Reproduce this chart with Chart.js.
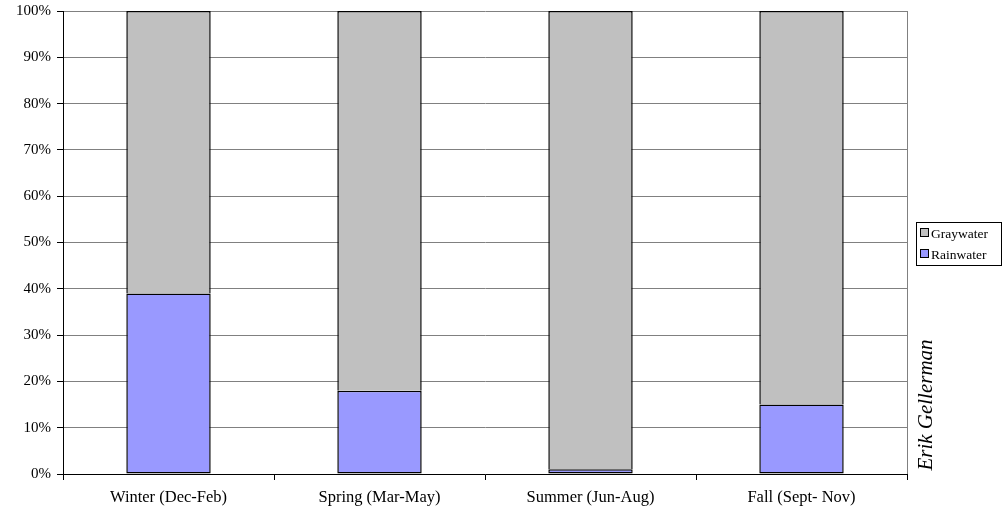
<!DOCTYPE html>
<html>
<head>
<meta charset="utf-8">
<script src="https://cdn.jsdelivr.net/npm/chart.js@4"></script>
<style>
  html, body { margin: 0; padding: 0; background: #fff; }
</style>
</head>
<body>
<canvas id="season-chart" width="1007" height="510"></canvas>
<script>
/* Data
================================================================ */

const seasons = ['Winter (Dec-Feb)', 'Spring (Mar-May)', 'Summer (Jun-Aug)', 'Fall (Sept- Nov)']
const rainwater = [39, 18, 1, 15]
const graywater = [61, 82, 99, 85]
const yTicks = [0, 10, 20, 30, 40, 50, 60, 70, 80, 90, 100]

const serif = "'Liberation Serif', 'DejaVu Serif', serif"

/* Plugins
================================================================ */

// right border of the plot, the boxed legend and the author note
const extras = {
  id: 'extras',
  afterDraw(chart) {
    const { ctx, chartArea } = chart
    ctx.save()

    ctx.strokeStyle = '#808080'
    ctx.lineWidth = 1
    ctx.beginPath()
    ctx.moveTo(Math.round(chartArea.right) + 0.5, chartArea.top)
    ctx.lineTo(Math.round(chartArea.right) + 0.5, chartArea.bottom)
    ctx.stroke()

    // legend
    const lx = 916, ly = 222, lw = 85, lh = 43
    ctx.strokeStyle = '#000'
    ctx.strokeRect(lx + 0.5, ly + 0.5, lw, lh)
    const items = [
      { text: 'Graywater', color: '#C0C0C0' },
      { text: 'Rainwater', color: '#9999FF' }
    ]
    ctx.font = '13.5px ' + serif
    ctx.textBaseline = 'middle'
    items.forEach((item, i) => {
      const y = ly + 11 + i * 21
      ctx.fillStyle = item.color
      ctx.fillRect(lx + 4.5, y - 4.5, 8, 8)
      ctx.strokeRect(lx + 4.5, y - 4.5, 8, 8)
      ctx.fillStyle = '#000'
      ctx.fillText(item.text, lx + 15, y + 1)
    })

    // rotated name
    ctx.translate(926, 405)
    ctx.rotate(-Math.PI / 2)
    ctx.font = 'italic 21px ' + serif
    ctx.textAlign = 'center'
    ctx.textBaseline = 'middle'
    ctx.fillStyle = '#000'
    ctx.fillText('Erik Gellerman', 0, 0)

    ctx.restore()
  }
}

/* Chart
================================================================ */

const canvas = document.getElementById('season-chart')

const barStyle = {
  borderColor: '#000',
  borderWidth: 1.5,
  categoryPercentage: 1,
  barPercentage: 0.4
}

const seasonChart = new Chart(canvas, {
  type: 'bar',
  data: {
    labels: seasons,
    datasets: [
      Object.assign({ label: 'Rainwater', data: rainwater, backgroundColor: '#9999FF', borderSkipped: false }, barStyle),
      // no bottom edge, the rainwater top edge already draws it
      Object.assign({ label: 'Graywater', data: graywater, backgroundColor: '#C0C0C0', borderSkipped: 'start' }, barStyle)
    ]
  },
  options: {
    responsive: false,
    animation: false,
    layout: {
      padding: { top: 11, right: 100, left: 0, bottom: 0 }
    },
    scales: {
      x: {
        stacked: true,
        offset: true,
        border: { color: '#000' },
        grid: {
          offset: true,
          drawOnChartArea: false,
          tickLength: 6,
          tickColor: '#000'
        },
        ticks: {
          color: '#000',
          padding: 8,
          font: { family: serif, size: 16.5 }
        },
        afterFit(scale) {
          scale.height = 36
          scale.paddingLeft = 0
          scale.paddingRight = 0
        }
      },
      y: {
        stacked: true,
        min: 0,
        max: 100,
        afterBuildTicks(scale) {
          scale.ticks = yTicks.map(v => ({ value: v }))
        },
        border: { color: '#000' },
        grid: {
          color: '#808080',
          tickLength: 6,
          tickColor: '#000'
        },
        ticks: {
          color: '#000',
          padding: 6,
          font: { family: serif, size: 15 },
          callback: (v) => v + '%'
        },
        afterFit(scale) {
          scale.width = 63
          scale.paddingTop = 0
          scale.paddingBottom = 0
        }
      }
    },
    plugins: {
      legend: { display: false },
      tooltip: { enabled: false }
    }
  },
  plugins: [extras]
})
</script>
</body>
</html>
